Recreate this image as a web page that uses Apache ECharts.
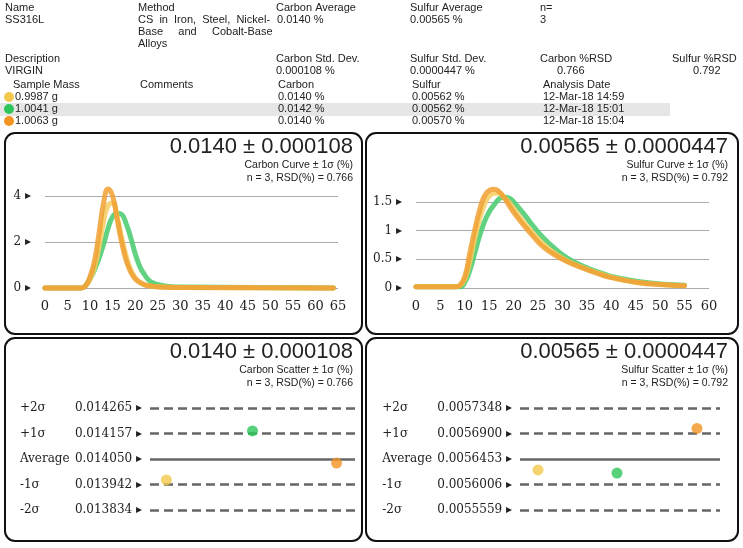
<!DOCTYPE html>
<html><head><meta charset="utf-8">
<script src="https://cdn.jsdelivr.net/npm/echarts@6/dist/echarts.min.js"></script>
<style>html,body{margin:0;padding:0;background:#fff}#c{width:743px;height:548px}</style>
</head><body><div id="c"></div>
<script>
// ---- data ----
const carbonOrange=[[0,0],[8,0],[9,0.1],[10,0.5],[11,1.2],[12,2.4],[13,3.7],[14,4.3],[15,4.0],[16,3.0],[17,2.0],[18,1.2],[19,0.7],[20,0.4],[21,0.25],[22,0.15],[23,0.1],[24,0.07],[25,0.05],[27,0.03],[30,0.02],[64,0]];
const carbonYellow=[[0,0],[8,0],[9,0.1],[10,0.4],[11,0.9],[12,1.8],[13,2.9],[14,3.6],[15,3.7],[16,3.1],[17,2.2],[18,1.4],[19,0.8],[20,0.45],[21,0.25],[22,0.15],[23,0.1],[25,0.05],[30,0.02],[64,0]];
const carbonGreen=[[0,0],[8,0],[9,0.1],[10,0.4],[11,0.8],[12,1.3],[13,1.9],[14,2.6],[15,3.1],[16,3.25],[17,3.2],[18,2.8],[19,2.2],[20,1.5],[21,0.95],[22,0.6],[23,0.35],[24,0.22],[25,0.15],[27,0.08],[30,0.04],[64,0]];
const sulfurOrange=[[0,0.02],[8,0.02],[9,0.05],[10,0.2],[11,0.6],[12,1.0],[13,1.35],[14,1.6],[15,1.7],[16,1.72],[17,1.68],[18,1.58],[19,1.45],[20,1.32],[22,1.1],[24,0.9],[26,0.72],[28,0.6],[30,0.5],[32,0.42],[35,0.32],[38,0.23],[40,0.18],[45,0.1],[50,0.06],[55,0.04]];
const sulfurYellow=[[0,0.02],[8,0.02],[9,0.04],[10,0.15],[11,0.45],[12,0.85],[13,1.2],[14,1.45],[15,1.6],[16,1.65],[17,1.65],[18,1.58],[19,1.5],[20,1.38],[22,1.15],[24,0.95],[26,0.77],[28,0.63],[30,0.52],[32,0.43],[35,0.33],[38,0.24],[40,0.19],[45,0.1],[50,0.06],[55,0.04]];
const sulfurGreen=[[0,0.02],[9,0.02],[10,0.1],[11,0.3],[12,0.6],[13,0.9],[14,1.15],[15,1.33],[16,1.45],[17,1.55],[18,1.58],[19,1.57],[20,1.5],[22,1.3],[24,1.08],[26,0.88],[28,0.72],[30,0.58],[32,0.47],[35,0.35],[38,0.26],[40,0.2],[45,0.12],[50,0.07],[55,0.05]];
const carbonTicks=[0,2,4];
const sulfurTicks=[0,0.5,1,1.5];
const sigmaNames=['-2σ','-1σ','Average','+1σ','+2σ'];
const carbonLevels=['0.013834','0.013942','0.014050','0.014157','0.014265'];
const sulfurLevels=['0.0055559','0.0056006','0.0056453','0.0056900','0.0057348'];
// scatter points: [position %, sigma] yellow, green, orange
const carbonPts=[[8,-0.82],[50,1.1],[91,-0.16]];
const sulfurPts=[[9,-0.43],[48.5,-0.55],[88.5,1.2]];
const colors=['#f2c94c','#2ec55a','#f39322'];
const curveCols={y:'rgba(245,205,95,0.85)',g:'rgba(80,205,115,0.9)',o:'rgba(240,160,50,0.85)'};

const el=echarts.init(document.getElementById('c'));
const SF='"Liberation Sans",Arial,sans-serif', SER='"DejaVu Serif",serif';
const g=[];
function T(x,y,t,o){g.push(Object.assign({type:'text',x:x,y:y,z:10,style:Object.assign({text:t,font:'11px '+SF,fill:'#222',verticalAlign:'middle'},o||{})}));}
g.push({type:'rect',shape:{x:0,y:103,width:670,height:13},style:{fill:'#e6e6e6'}});
T(5,8,'Name');T(5,20,'SS316L');
T(138,8,'Method');T(138,20,'CS  in  Iron,  Steel,  Nickel-');T(138,32,'Base     and     Cobalt-Base');T(138,44,'Alloys');
T(276,8,'Carbon Average');T(277,20,'0.0140 %');
T(410,8,'Sulfur Average');T(410,20,'0.00565 %');
T(540,8,'n=');T(540,20,'3');
T(5,59,'Description');T(5,71,'VIRGIN');
T(276,59,'Carbon Std. Dev.');T(276,71,'0.000108 %');
T(410,59,'Sulfur Std. Dev.');T(410,71,'0.0000447 %');
T(540,59,'Carbon %RSD');T(557,71,'0.766');
T(672,59,'Sulfur %RSD');T(693,71,'0.792');
T(13,85,'Sample Mass');T(140,85,'Comments');T(278,85,'Carbon');T(412,85,'Sulfur');T(543,85,'Analysis Date');
const rows=[['0.9987 g','0.0140 %','0.00562 %','12-Mar-18 14:59'],['1.0041 g','0.0142 %','0.00562 %','12-Mar-18 15:01'],['1.0063 g','0.0140 %','0.00570 %','12-Mar-18 15:04']];
rows.forEach((r,i)=>{const y=97+i*12;g.push({type:'circle',shape:{cx:9,cy:y,r:5},style:{fill:colors[i]}});
T(15,y,r[0]);T(278,y,r[1]);T(412,y,r[2]);T(543,y,r[3]);});
[[5,133,357,201],[366,133,372,201],[5,338,357,203],[366,338,372,203]].forEach(b=>g.push({type:'rect',shape:{x:b[0],y:b[1],width:b[2],height:b[3],r:10},style:{fill:'none',stroke:'#111',lineWidth:2}}));
function titles(xr,y0,big,sub,rsd){T(xr,y0,big,{font:'22px '+SF,align:'right'});T(xr,y0+18,sub,{align:'right',font:'10.5px '+SF});T(xr,y0+31,rsd,{align:'right',font:'10.5px '+SF});}
titles(353,147,'0.0140 ± 0.000108','Carbon Curve ± 1σ (%)','n = 3, RSD(%) = 0.766');
titles(728,147,'0.00565 ± 0.0000447','Sulfur Curve ± 1σ (%)','n = 3, RSD(%) = 0.792');
titles(353,352,'0.0140 ± 0.000108','Carbon Scatter ± 1σ (%)','n = 3, RSD(%) = 0.766');
titles(728,352,'0.00565 ± 0.0000447','Sulfur Scatter ± 1σ (%)','n = 3, RSD(%) = 0.792');

const axLab={fontFamily:SER,fontSize:12,color:'#222'};
function yCurve(gi,max,interval){return {gridIndex:gi,type:'value',min:0,max:max,interval:interval,axisLine:{show:false},axisTick:{show:false},
 splitLine:{show:false},axisLabel:Object.assign({},axLab,{showMaxLabel:false,margin:14,formatter:v=>v+' ▸'})};}
function xCurve(gi,max){return {gridIndex:gi,type:'value',min:0,max:max,interval:5,axisLine:{show:false},axisTick:{show:false},splitLine:{show:false},axisLabel:Object.assign({},axLab,{fontSize:13,margin:12})};}
function yScat(gi,levels){return {gridIndex:gi,type:'value',min:-3,max:3,interval:1,axisLine:{show:false},axisTick:{show:false},splitLine:{show:false},
 axisLabel:{margin:8,fontFamily:SER,fontSize:12,color:'#222',formatter:v=>Math.abs(v)>2?'':'{a|'+sigmaNames[v+2]+'}{b|'+levels[v+2]+' ▸}',
 rich:{a:{width:55,align:'left',fontFamily:SER,fontSize:12},b:{fontFamily:SER,fontSize:12}}}};}
function xScat(gi){return {gridIndex:gi,type:'value',min:0,max:100,show:false};}
function line(xi,data,col,ticks){const s={type:'line',xAxisIndex:xi,yAxisIndex:xi,data:data,smooth:true,showSymbol:false,clip:false,lineStyle:{color:col,width:5,join:'round',cap:'round'},silent:true};
 if(ticks)s.markLine={silent:true,symbol:'none',label:{show:false},z:0,data:ticks.map(v=>({yAxis:v,lineStyle:{color:'#aaa',width:1,type:'solid'}}))};return s;}
function scat(xi,pts){return {type:'scatter',xAxisIndex:xi,yAxisIndex:xi,symbolSize:11,z:5,data:pts.map((p,i)=>({value:p,itemStyle:{color:colors[i]}})),
 markLine:{silent:true,symbol:'none',label:{show:false},data:[-2,-1,0,1,2].map(v=>({yAxis:v,lineStyle:{color:'#666',width:2.5,type:v===0?'solid':[9,5]}}))}};}

el.setOption({animation:false,
 grid:[{left:45,width:293,top:175.3,height:112.7},{left:416,right:34,top:179,height:109},{left:150,width:205,top:382.5,height:153},{left:520,width:200,top:382.5,height:153}],
 xAxis:[xCurve(0,65),xCurve(1,60),xScat(2),xScat(3)],
 yAxis:[yCurve(0,4.9,2),yCurve(1,1.9,0.5),yScat(2,carbonLevels),yScat(3,sulfurLevels)],
 series:[line(0,carbonGreen,curveCols.g,carbonTicks),line(0,carbonYellow,curveCols.y),line(0,carbonOrange,curveCols.o),
  line(1,sulfurGreen,curveCols.g,sulfurTicks),line(1,sulfurYellow,curveCols.y),line(1,sulfurOrange,curveCols.o),
  scat(2,carbonPts),scat(3,sulfurPts)],
 graphic:g});
</script></body></html>
